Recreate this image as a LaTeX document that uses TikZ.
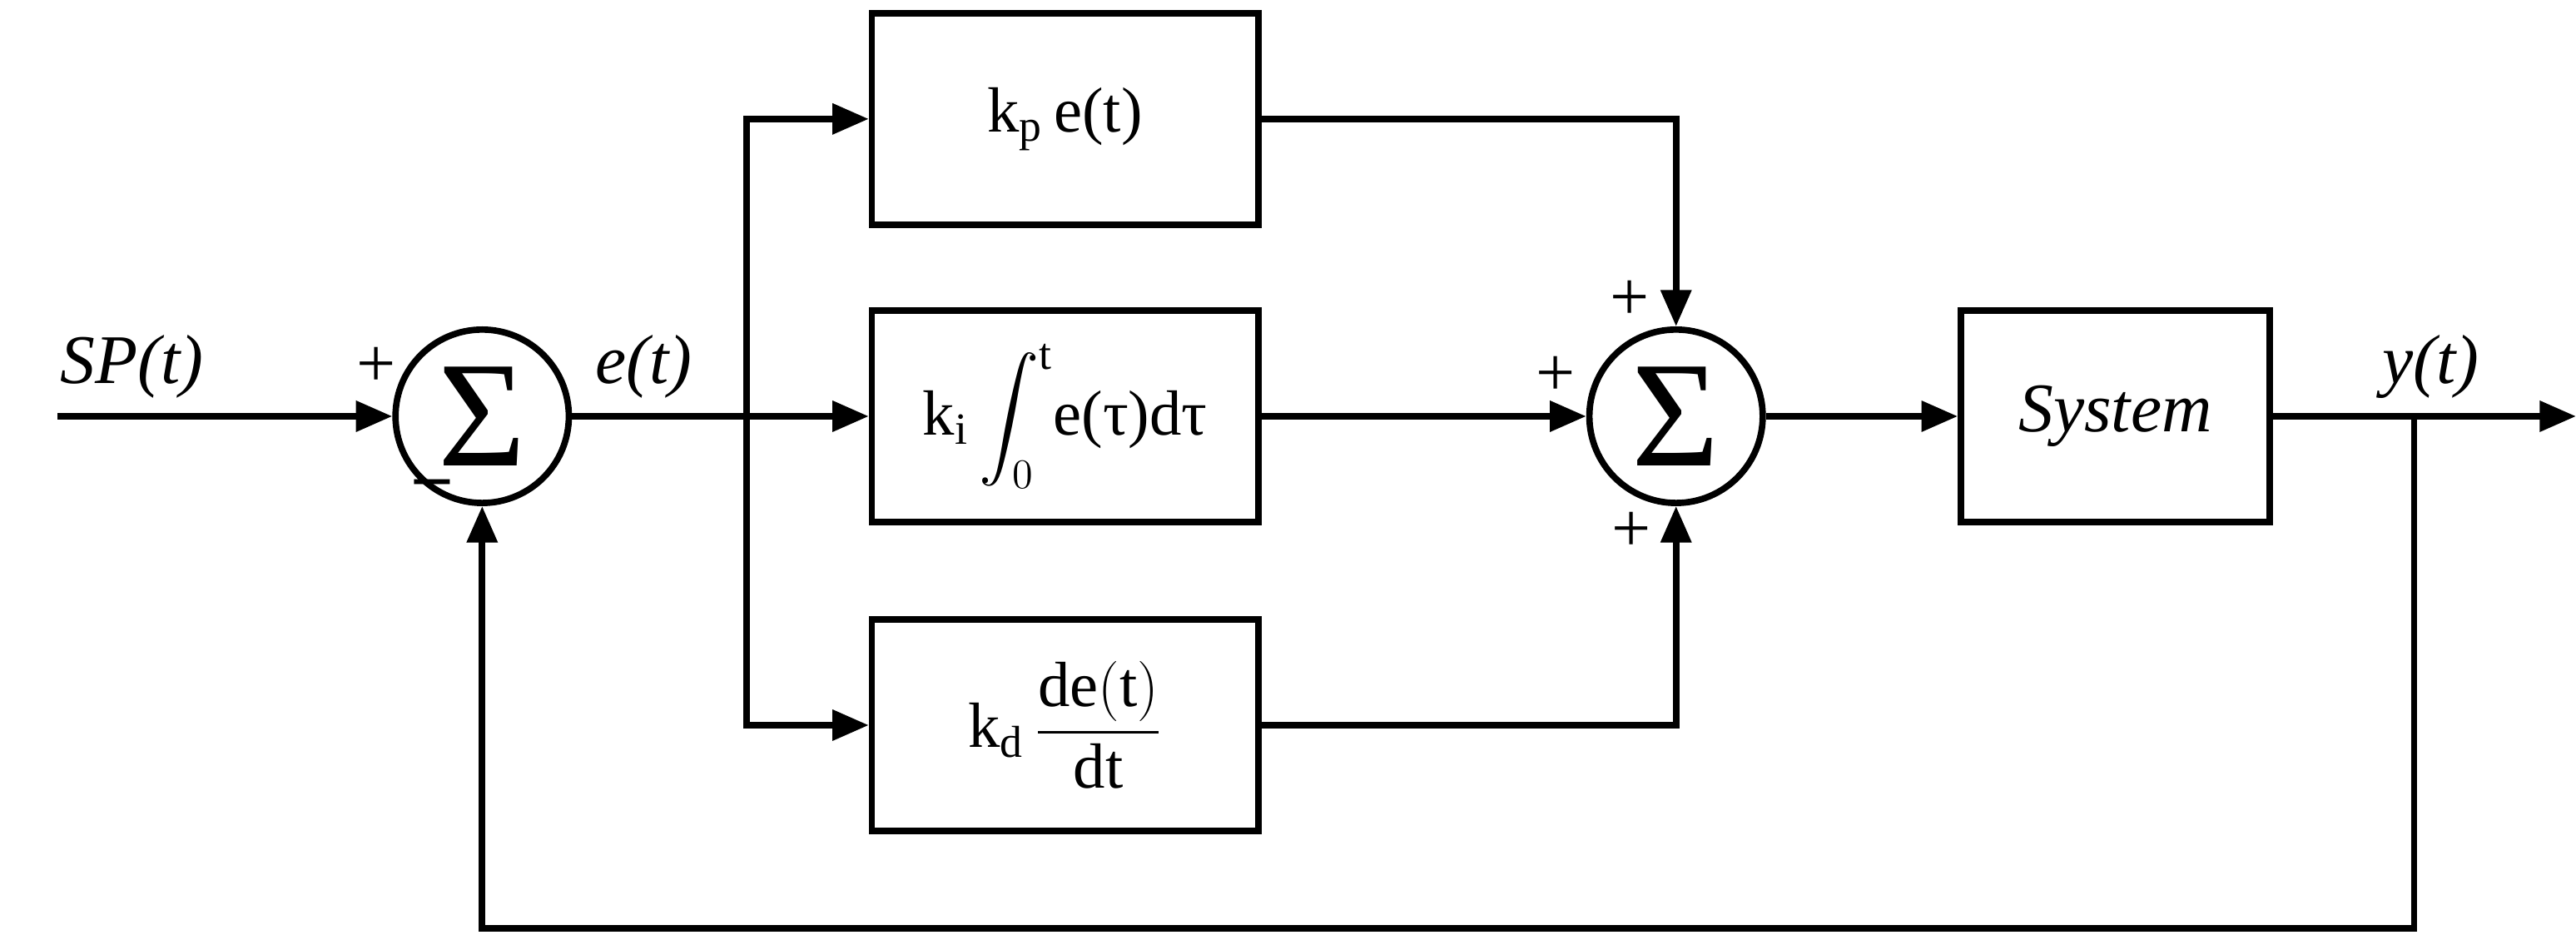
\documentclass[tikz,border=0pt]{standalone}
\usepackage{amsmath}
\usepackage{fontspec}
\setmainfont{Liberation Serif}
\usetikzlibrary{arrows.meta}
\begin{document}
\begin{tikzpicture}[x=0.02cm,y=-0.02cm,line width=2.2pt,
  arr/.style={-{Triangle[length=0.44cm,width=0.36cm]}},
  blk/.style={draw,minimum width=4.68cm,minimum height=2.56cm,font=\fontsize{22}{26}\selectfont},
  sum/.style={draw,circle,minimum size=2.1cm,inner sep=0pt,font=\fontsize{52}{56}\selectfont},
  lbl/.style={font=\fontsize{24}{28}\selectfont}]
\useasboundingbox (0,0) rectangle (1560,575);
\node[sum] (s1) at (292,252) {Σ};
\node[sum] (s2) at (1015,252) {Σ};
\node[blk] (kp) at (645,72) {k$_\mathrm{p}$\,e(t)};
\node[blk] (ki) at (645,252) {k$_\mathrm{i}$\,$\displaystyle\int_0^{\mathrm{t}}$e(τ)dτ};
\node[blk] (kd) at (645,439) {k$_\mathrm{d}$\,$\dfrac{\mathrm{de(t)}}{\mathrm{dt}}$};
\node[draw,minimum width=3.74cm,minimum height=2.56cm,font=\fontsize{24}{28}\selectfont\itshape] (sys) at (1281,252) {System};
\coordinate (in) at (35,252);
\coordinate (out) at (1560,252);
\coordinate (br) at (452,252);
\coordinate (fb) at (1462,252);
\draw[arr] (in) -- (s1);
\draw (s1) -- (br);
\draw[arr] (br) -- (ki);
\draw[arr] (br) |- (kp.west);
\draw[arr] (br) |- (kd.west);
\draw[arr] (kp.east) -| (s2.north);
\draw[arr] (ki) -- (s2);
\draw[arr] (kd.east) -| (s2.south);
\draw[arr] (s2) -- (sys);
\draw[arr] (sys) -- (out);
\draw[arr] (fb) -- (1462,562) -| (s1.south);
\node[lbl,font=\fontsize{24}{28}\selectfont\itshape] (sp) at (80,222) {SP(t)};
\node[lbl,font=\fontsize{24}{28}\selectfont\itshape] (et) at (390,222) {e(t)};
\node[lbl,font=\fontsize{24}{28}\selectfont\itshape] (yt) at (1472,222) {y(t)};
\node[lbl] (p1) at (228,222) {+};
\node[lbl] (m1) at (262,296) {\textbf{–}};
\node[lbl] (p2) at (987,182) {+};
\node[lbl] (p3) at (942,228) {+};
\node[lbl] (p4) at (988,322) {+};
\end{tikzpicture}
\end{document}
